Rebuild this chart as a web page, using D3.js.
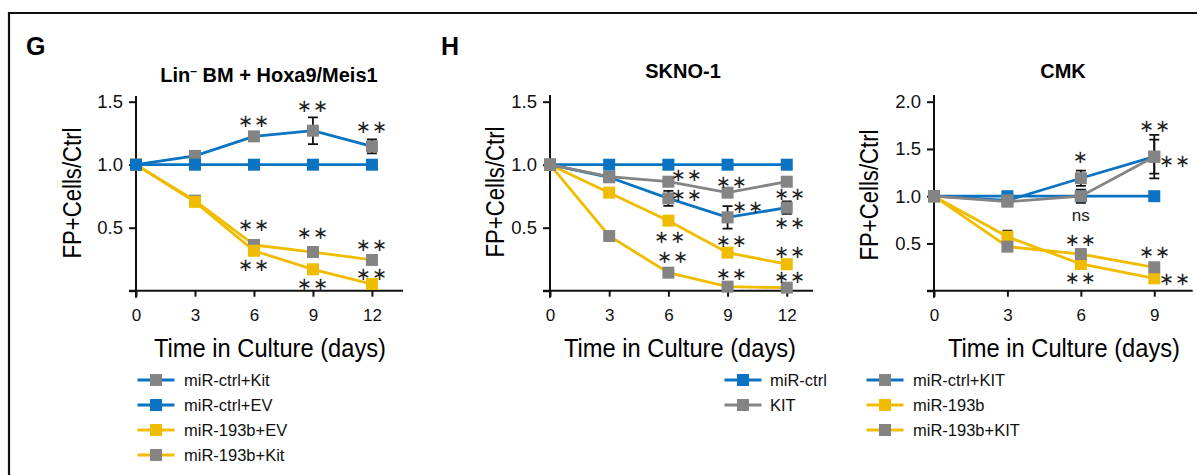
<!DOCTYPE html>
<html>
<head>
<meta charset="utf-8">
<script src="https://cdn.jsdelivr.net/npm/d3@7"></script>
<style>
  body { margin: 0; background: #fff; }
  svg { font-family: "Liberation Sans", Arial, sans-serif; }
</style>
</head>
<body>
<div id="chart"></div>
<script>
// ---- data ----
var daysG = [0, 3, 6, 9, 12];
var gCtrlKit = [1.0, 1.07, 1.225, 1.27, 1.145];
var gCtrlKitErr = [0, 0, 0, 0.106, 0.055];
var gCtrlEV = [1, 1, 1, 1, 1];
var g193bEV = [1, 0.705, 0.317, 0.17, 0.053];
var g193bKit = [1, 0.715, 0.363, 0.307, 0.244];
var gStars = [[6, 1.347, "∗∗"], [9, 1.466, "∗∗"], [12, 1.307, "∗∗"],
              [6, 0.529, "∗∗"], [9, 0.46, "∗∗"], [12, 0.363, "∗∗"],
              [6, 0.204, "∗∗"], [9, 0.061, "∗∗"], [12, 0.14, "∗∗"]];

var daysS = [0, 3, 6, 9, 12];
var sCtrl = [1, 1, 1, 1, 1];
var sKit = [1, 0.905, 0.865, 0.778, 0.865];
var sCtrlKit = [1, 0.9, 0.733, 0.582, 0.659];
var sCtrlKitErr = [0, 0, 0.06, 0.09, 0.05];
var s193b = [1, 0.778, 0.556, 0.302, 0.21];
var s193bKit = [1, 0.434, 0.143, 0.032, 0.024];
var sStars = [[6.93, 0.92, "∗∗"], [6.93, 0.765, "∗∗"], [9.21, 0.865, "∗∗"],
              [10.04, 0.667, "∗∗"], [12.17, 0.775, "∗∗"], [12.17, 0.54, "∗∗"],
              [6.09, 0.429, "∗∗"], [6.24, 0.27, "∗∗"], [9.21, 0.402, "∗∗"],
              [9.21, 0.14, "∗∗"], [12.17, 0.31, "∗∗"], [12.17, 0.111, "∗∗"]];

var daysC = [0, 3, 6, 9];
var cCtrl = [1, 1, 1, 1];
var cKit = [1, 0.942, 1.0, 1.418];
var cKitErr = [0, 0, 0.07, 0.18];
var cCtrlKit = [1, 0.955, 1.19, 1.418];
var cCtrlKitErr = [0, 0, 0.08, 0.23];
var c193b = [1, 0.571, 0.283, 0.131];
var c193bErr = [0, 0.065, 0, 0];
var c193bKit = [1, 0.466, 0.388, 0.248];
var c193bKitErr = [0, 0, 0.03, 0];
var cStars = [[6, 1.425, "∗"], [9.03, 1.753, "∗∗"], [9.85, 1.383, "∗∗"],
              [6, 0.80, "ns"], [6, 0.544, "∗∗"], [6, 0.142, "∗∗"],
              [9.03, 0.413, "∗∗"], [9.85, 0.131, "∗∗"]];

var yTicksLow = [0, 0.5, 1.0, 1.5];
var yTicksCmk = [0, 0.5, 1.0, 1.5, 2.0];

var legendG = ["miR-ctrl+Kit", "miR-ctrl+EV", "miR-193b+EV", "miR-193b+Kit"];
var legendH1 = ["miR-ctrl", "KIT"];
var legendH2 = ["miR-ctrl+KIT", "miR-193b", "miR-193b+KIT"];

var BLUE = "#0a73c2", YEL = "#f0bc00", GRAY = "#848484";

var svg = d3.select("#chart").append("svg")
    .attr("width", 1197).attr("height", 475);

// outer frame
svg.append("path")
    .attr("d", "M9,475 V13 H1197")
    .attr("fill", "none").attr("stroke", "#111").attr("stroke-width", 2.2);

svg.append("text").attr("x", 26).attr("y", 55).text("G")
    .style("font-size", "25px").style("font-weight", "bold");
svg.append("text").attr("x", 441).attr("y", 55).text("H")
    .style("font-size", "25px").style("font-weight", "bold");

function drawPanel(p) {
    var x = d3.scaleLinear().domain([0, p.xEnd]).range([p.left, p.right]);
    var y = d3.scaleLinear().domain([0, p.yMax]).range([290.7, p.yMaxPx]);
    var g = svg.append("g");

    // axes
    var yAxis = d3.axisLeft(y).tickValues(p.yTicks).tickSize(7)
        .tickFormat(function (d) { return d === 0 ? "" : d3.format(".1f")(d); });
    var ya = g.append("g").attr("transform", "translate(" + p.left + ",0)").call(yAxis);
    ya.select(".domain").attr("d", "M0," + (290.7 + 7) + "V" + p.axisTop);
    var xAxis = d3.axisBottom(x).tickValues(p.days).tickSize(6).tickPadding(12);
    var xa = g.append("g").attr("transform", "translate(0,290.7)").call(xAxis);
    xa.select(".domain").attr("d", "M" + (p.left - 7) + ",0H" + p.right);
    g.selectAll(".domain, .tick line").attr("stroke", "#111").attr("stroke-width", 2);
    ya.selectAll("text").style("font-size", "18.5px").attr("fill", "#111").attr("dx", "-3");
    xa.selectAll("text").style("font-size", "17px").attr("fill", "#111");

    // lines, error bars, markers
    var line = d3.line()
        .x(function (d, i) { return x(p.days[i]); })
        .y(function (d) { return y(d); });
    p.series.forEach(function (s) {
        g.append("path").datum(s.vals).attr("d", line)
            .attr("fill", "none").attr("stroke", s.line).attr("stroke-width", 2.8);
    });
    p.series.forEach(function (s) {
        if (!s.err) return;
        s.vals.forEach(function (v, i) {
            if (!s.err[i]) return;
            var cx = x(p.days[i]), y1 = y(v - s.err[i]), y2 = y(v + s.err[i]);
            g.append("path")
                .attr("d", "M" + cx + "," + y1 + "V" + y2 +
                    "M" + (cx - 5) + "," + y1 + "H" + (cx + 5) +
                    "M" + (cx - 5) + "," + y2 + "H" + (cx + 5))
                .attr("stroke", "#111").attr("stroke-width", 1.8).attr("fill", "none");
        });
    });
    p.series.forEach(function (s) {
        g.selectAll(null).data(s.vals).enter().append("rect")
            .attr("x", function (d, i) { return x(p.days[i]) - 6; })
            .attr("y", function (d) { return y(d) - 6; })
            .attr("width", 12).attr("height", 12)
            .attr("fill", s.marker);
    });

    // significance marks
    g.selectAll(null).data(p.stars).enter().append("text")
        .attr("x", function (d) { return x(d[0]); })
        .attr("y", function (d) { return y(d[1]); })
        .attr("text-anchor", "middle")
        .attr("dominant-baseline", "central")
        .style("font-family", function (d) { return d[2] === "ns" ? null : "DejaVu Sans"; })
        .style("font-size", function (d) { return d[2] === "ns" ? "17px" : "18px"; })
        .style("letter-spacing", function (d) { return d[2] === "ns" ? "0px" : "1px"; })
        .attr("fill", "#222")
        .text(function (d) { return d[2]; });

    // titles
    var t = g.append("text").attr("x", p.titleX).attr("y", p.titleY)
        .attr("text-anchor", "middle")
        .style("font-size", "20px").style("font-weight", "bold");
    if (p.titleSup) {
        t.append("tspan").text("Lin");
        t.append("tspan").text("–").attr("dy", -7).style("font-size", "12px");
        t.append("tspan").text(" BM + Hoxa9/Meis1").attr("dy", 7);
    } else {
        t.text(p.title);
    }
    g.append("text")
        .attr("transform", "translate(" + (p.left - p.yLabelOff) + "," + p.yLabelY + ") rotate(-90)")
        .attr("text-anchor", "middle").attr("dominant-baseline", "central")
        .attr("textLength", 131).attr("lengthAdjust", "spacingAndGlyphs")
        .style("font-size", "25px")
        .text("FP+Cells/Ctrl");
    g.append("text").attr("x", p.xLabelX).attr("y", 357)
        .attr("text-anchor", "middle")
        .attr("textLength", 232).attr("lengthAdjust", "spacingAndGlyphs")
        .style("font-size", "25px")
        .text("Time in Culture (days)");
}

drawPanel({
    days: daysG, xEnd: 13.58, left: 136, right: 403, axisTop: 96,
    yMax: 1.5, yMaxPx: 101.7, yTicks: yTicksLow,
    title: "Lin– BM + Hoxa9/Meis1", titleSup: true, titleX: 269, titleY: 82,
    xLabelX: 270, yLabelOff: 64, yLabelY: 193,
    series: [
        { vals: gCtrlKit, line: BLUE, marker: GRAY, err: gCtrlKitErr },
        { vals: g193bKit, line: YEL, marker: GRAY },
        { vals: g193bEV, line: YEL, marker: YEL },
        { vals: gCtrlEV, line: BLUE, marker: BLUE }
    ],
    stars: gStars
});

drawPanel({
    days: daysS, xEnd: 13.33, left: 550, right: 813, axisTop: 95,
    yMax: 1.5, yMaxPx: 101.7, yTicks: yTicksLow,
    title: "SKNO-1", titleX: 683, titleY: 78,
    xLabelX: 680, yLabelOff: 55, yLabelY: 192,
    series: [
        { vals: sCtrl, line: BLUE, marker: BLUE },
        { vals: s193b, line: YEL, marker: YEL },
        { vals: sCtrlKit, line: BLUE, marker: GRAY, err: sCtrlKitErr },
        { vals: sKit, line: GRAY, marker: GRAY },
        { vals: s193bKit, line: YEL, marker: GRAY }
    ],
    stars: sStars
});

drawPanel({
    days: daysC, xEnd: 10.57, left: 934, right: 1192.7, axisTop: 95,
    yMax: 2.0, yMaxPx: 101.7, yTicks: yTicksCmk,
    title: "CMK", titleX: 1063, titleY: 78,
    xLabelX: 1064, yLabelOff: 65, yLabelY: 195,
    series: [
        { vals: cCtrl, line: BLUE, marker: BLUE },
        { vals: c193b, line: YEL, marker: YEL, err: c193bErr },
        { vals: c193bKit, line: YEL, marker: GRAY, err: c193bKitErr },
        { vals: cCtrlKit, line: BLUE, marker: GRAY, err: cCtrlKitErr },
        { vals: cKit, line: GRAY, marker: GRAY, err: cKitErr }
    ],
    stars: cStars
});

// legends
function legend(items, styles, cx, y0, len, textX) {
    var lg = svg.append("g");
    items.forEach(function (name, i) {
        var yy = y0 + i * 25;
        lg.append("line").attr("x1", cx - len / 2).attr("x2", cx + len / 2)
            .attr("y1", yy).attr("y2", yy)
            .attr("stroke", styles[i][0]).attr("stroke-width", 3);
        lg.append("rect").attr("x", cx - 6).attr("y", yy - 6)
            .attr("width", 12).attr("height", 12).attr("fill", styles[i][1]);
        lg.append("text").attr("x", textX).attr("y", yy)
            .attr("dominant-baseline", "central")
            .style("font-size", "16.5px").attr("fill", "#111")
            .text(name);
    });
}
legend(legendG, [[BLUE, GRAY], [BLUE, BLUE], [YEL, YEL], [YEL, GRAY]], 156, 380, 37, 184);
legend(legendH1, [[BLUE, BLUE], [GRAY, GRAY]], 743, 380, 37, 770);
legend(legendH2, [[BLUE, GRAY], [YEL, YEL], [YEL, GRAY]], 885, 380, 37, 913);
</script>
</body>
</html>
